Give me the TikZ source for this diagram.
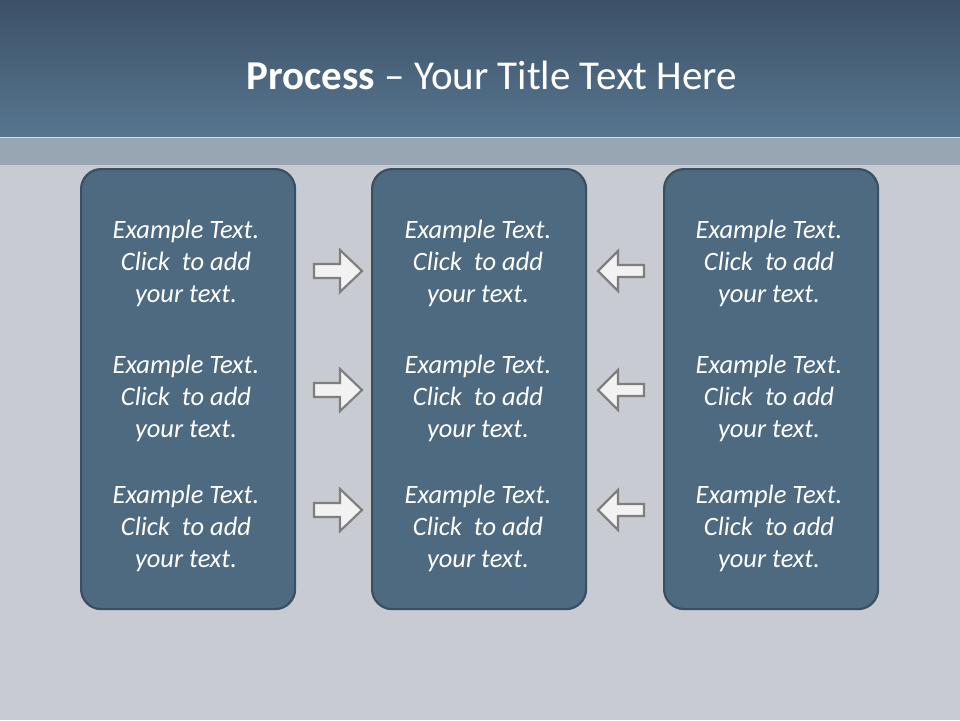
\documentclass[tikz,border=0pt]{standalone}
\usepackage{fontspec}
\setmainfont{Carlito}
\usetikzlibrary{positioning}
\definecolor{hdtop}{HTML}{3C5168}
\definecolor{hdbot}{HTML}{57768F}
\definecolor{band}{HTML}{98A5B2}
\definecolor{bg}{HTML}{C8CCD2}
\definecolor{boxfill}{HTML}{4D6A80}
\definecolor{boxline}{HTML}{3A4F63}
\definecolor{arrfill}{HTML}{F2F2F2}
\definecolor{arrline}{HTML}{7F7F7F}
\tikzset{
  panel/.style={draw=boxline, line width=2.2pt, fill=boxfill, rounded corners=20pt},
  itemtext/.style={text=white, align=center, font=\fontsize{26.5}{32}\selectfont\itshape, inner sep=0pt},
  arrowshape/.style={draw=arrline, fill=arrfill, line width=2.2pt, line join=miter}
}
\begin{document}
\begin{tikzpicture}[x=1pt,y=-1pt]
\useasboundingbox (0,0) rectangle (960,720);
% background
\fill[bg] (0,0) rectangle (960,720);
\shade[top color=hdtop, bottom color=hdbot] (0,0) rectangle (960,137);
\fill[band] (0,137) rectangle (960,165);
\draw[white!60!band, line width=1pt] (0,137.5) -- (960,137.5);
% title
\node[text=white, font=\fontsize{41}{48}\selectfont, inner sep=0pt] (title) at (492,75) {\textbf{Process} -- Your Title Text Here};
% panels
\node[panel, minimum width=214pt, minimum height=440pt, anchor=north west] (p1) at (80,168) {};
\node[panel, minimum width=214pt, minimum height=440pt, anchor=north west] (p2) at (371,168) {};
\node[panel, minimum width=214pt, minimum height=440pt, anchor=north west] (p3) at (663,168) {};
% texts
\foreach \c/\x in {a/186,b/478,c/769}{
  \foreach \r/\y in {1/263,2/398,3/528}{
    \node[itemtext] (t\c\r) at (\x,\y) {Example Text.\\Click~ to add\\your text.};
  }
}
% arrows
\foreach \r/\y in {1/271,2/390,3/510}{
  \coordinate (ra\r) at (314,\y);
  \coordinate (la\r) at (598,\y);
  \draw[arrowshape] (ra\r) ++(0,-7) -- ++(26,0) -- ++(0,-14) -- ++(22,21) -- ++(-22,21) -- ++(0,-14) -- ++(-26,0) -- cycle;
  \draw[arrowshape] (la\r) -- ++(20,-20) -- ++(0,14) -- ++(26,0) -- ++(0,12) -- ++(-26,0) -- ++(0,14) -- cycle;
}
\end{tikzpicture}
\end{document}
